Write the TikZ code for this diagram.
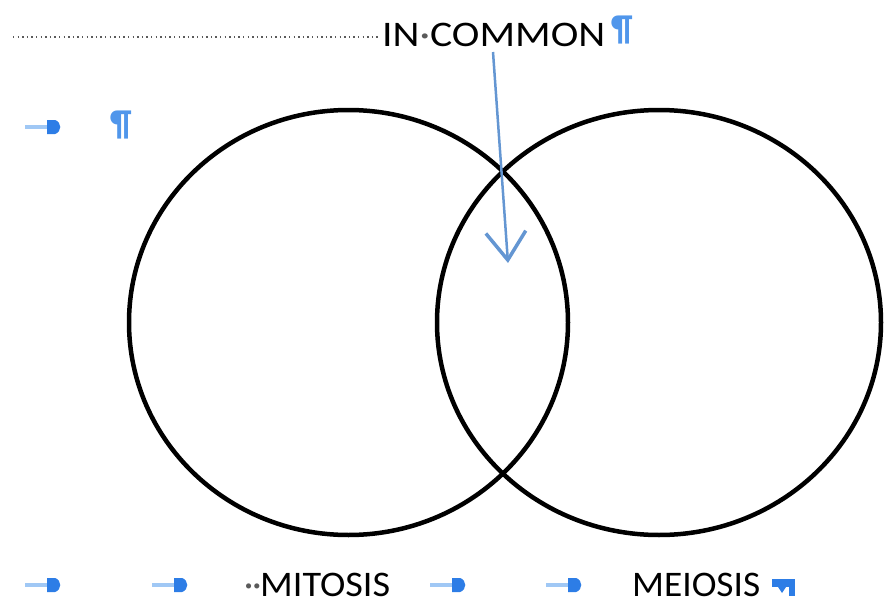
\documentclass[tikz,border=0pt]{standalone}
\usepackage{fontspec}
\setmainfont{Carlito}
\usetikzlibrary{arrows.meta,shapes.geometric}
\definecolor{tabline}{RGB}{160,200,245}
\definecolor{tabhead}{RGB}{45,125,230}
\definecolor{pilc}{RGB}{80,150,235}
\definecolor{conn}{RGB}{100,150,210}
\definecolor{spc}{RGB}{90,90,90}
\tikzset{
  venn/.style={ellipse,draw=black,line width=4.5pt,inner sep=0pt},
  word/.style={anchor=base west,inner sep=0pt,font=\fontsize{36}{40}\selectfont,text=black},
  pilcrow/.style={anchor=base west,inner sep=0pt,font=\fontsize{36}{40}\selectfont\bfseries,text=pilc},
  callout/.style={draw=conn,line width=2.5pt,-{Straight Barb[length=28pt,width=40pt,line width=3.5pt]}},
  spacedots/.style={draw=spc,line width=1.6pt,dash pattern=on 1.4pt off 3.2pt}
}
\newcommand\tabmark[2]{%
  \fill[tabline] (#1,#2-2.2) rectangle (#1+24,#2+2.2);
  \fill[tabhead] (#1+22,#2-7) -- (#1+30,#2-7) .. controls (#1+37,#2-5) and (#1+37,#2+5) .. (#1+30,#2+7) -- (#1+22,#2+7) -- cycle;}
\begin{document}
\begin{tikzpicture}[x=1pt,y=-1pt]
\useasboundingbox (0,0) rectangle (884,605);
% circles
\node[venn,minimum width=439pt,minimum height=425pt] (mitosis) at (348.5,322.5) {};
\node[venn,minimum width=444pt,minimum height=425pt] (meiosis) at (659,322.5) {};
% top line
\draw[spacedots] (13,37) -- (378,37);
\node[word] (common) at (382,46) {\resizebox{223pt}{\height}{IN\textcolor{spc}{\textperiodcentered}COMMON}};
\node[pilcrow] (p1) at (611,40) {¶};
% left marks
\tabmark{25}{127}
\node[pilcrow] (p2) at (110,135) {¶};
% connector
\coordinate (cstart) at (493,52);
\coordinate (cend) at (508,263);
\draw[callout] (cstart) -- (cend);
% bottom line
\tabmark{25}{585}
\tabmark{152}{585}
\node[word] (dots) at (244,596) {\textcolor{spc}{\textperiodcentered\kern-1pt\textperiodcentered}};
\node[word] (mit) at (260,596) {\resizebox{130pt}{\height}{MITOSIS}};
\tabmark{430}{585}
\tabmark{546}{585}
\node[word] (mei) at (632,596) {\resizebox{128pt}{\height}{MEIOSIS}};
% line break mark
\fill[tabhead] (772,579) rectangle (795,587);
\fill[tabhead] (778,587) -- (786,587) -- (782,593) -- cycle;
\fill[tabhead] (789,587) rectangle (795,596);
\end{tikzpicture}
\end{document}
